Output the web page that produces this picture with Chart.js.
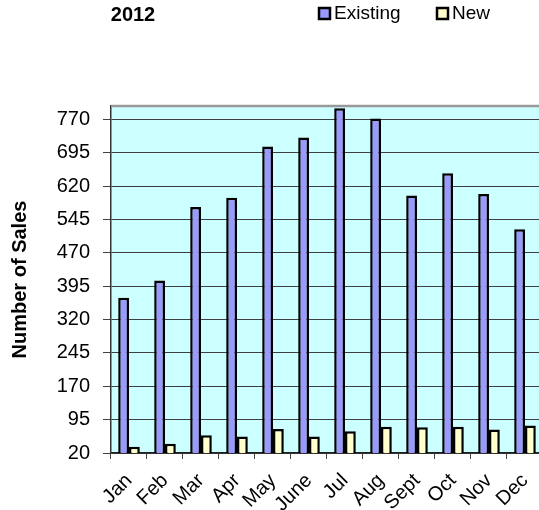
<!DOCTYPE html>
<html>
<head>
<meta charset="utf-8">
<script src="https://cdn.jsdelivr.net/npm/chart.js@4.4.0/dist/chart.umd.min.js"></script>
<style>
  html, body { margin: 0; padding: 0; background: #fff; overflow: hidden; }
  #wrap { width: 539px; height: 510px; overflow: hidden; }
</style>
</head>
<body>
<div id="wrap"><canvas id="salesChart" width="552" height="510"></canvas></div>
<script>
const months = ["Jan", "Feb", "Mar", "Apr", "May", "June", "Jul", "Aug", "Sept", "Oct", "Nov", "Dec"];
const existingSales = [369, 408, 573, 594, 709, 729, 795, 772, 599, 649, 602, 523];
const newSales = [34, 41, 60, 57, 74, 57, 69, 79, 78, 79, 73, 82];
const yTicks = [20, 95, 170, 245, 320, 395, 470, 545, 620, 695, 770];
const seriesNames = ["Existing", "New"];
const seriesColors = ["#9999FF", "#FFFFCC"];
const titleText = "2012";

Chart.defaults.font.family = "'Liberation Sans', Arial, sans-serif";
Chart.defaults.color = "#000";

// background of the plot area, top border, title and legend
const plotDecor = {
  id: "plotDecor",
  beforeDraw(chart) {
    const { ctx, chartArea: a } = chart;
    ctx.save();
    ctx.fillStyle = "#CCFFFF";
    ctx.fillRect(a.left, a.top, a.right - a.left, a.bottom - a.top);
    ctx.restore();
  },
  afterDraw(chart) {
    const { ctx, chartArea: a } = chart;
    ctx.save();
    ctx.strokeStyle = "#999999";
    ctx.lineWidth = 2.5;
    ctx.beginPath();
    ctx.moveTo(a.left, a.top);
    ctx.lineTo(a.right, a.top);
    ctx.stroke();

    ctx.fillStyle = "#000";
    ctx.font = "bold 20px 'Liberation Sans', Arial, sans-serif";
    ctx.textAlign = "center";
    ctx.textBaseline = "middle";
    ctx.fillText(titleText, 133, 15);

    ctx.font = "19px 'Liberation Sans', Arial, sans-serif";
    ctx.textAlign = "left";
    const xs = [319, 437];
    chart.data.datasets.forEach((ds, i) => {
      ctx.fillStyle = ds.backgroundColor;
      ctx.fillRect(xs[i], 8, 11, 11);
      ctx.strokeStyle = "#000";
      ctx.lineWidth = 2.5;
      ctx.strokeRect(xs[i], 8, 11, 11);
      ctx.fillStyle = "#000";
      ctx.fillText(ds.label, xs[i] + 15, 14);
    });
    ctx.restore();
  }
};

new Chart("salesChart", {
  type: "bar",
  data: {
    labels: months,
    datasets: [
      {
        label: seriesNames[0],
        data: existingSales,
        backgroundColor: seriesColors[0],
        borderColor: "#000",
        borderWidth: 2.5,
        categoryPercentage: 0.6,
        barPercentage: 1
      },
      {
        label: seriesNames[1],
        data: newSales,
        backgroundColor: seriesColors[1],
        borderColor: "#000",
        borderWidth: 2.5,
        categoryPercentage: 0.6,
        barPercentage: 1
      }
    ]
  },
  options: {
    responsive: false,
    animation: false,
    layout: { padding: { top: 106, right: 1, left: 0, bottom: 0 } },
    plugins: {
      legend: { display: false },
      title: { display: false },
      tooltip: { enabled: false }
    },
    scales: {
      x: {
        afterFit: (axis) => { axis.height = 57; },
        ticks: {
          font: { size: 20 },
          maxRotation: 45,
          minRotation: 45,
          autoSkip: false,
          padding: 10
        },
        grid: { drawOnChartArea: false, color: "#404040", tickLength: 6, offset: true },
        border: { color: "#222", width: 1.5 }
      },
      y: {
        min: 20,
        max: 800,
        afterBuildTicks: (axis) => { axis.ticks = yTicks.map((v) => ({ value: v })); },
        afterFit: (axis) => { axis.width = 111; },
        ticks: { font: { size: 20 }, padding: 13 },
        grid: { color: "#404040", tickLength: 8, lineWidth: 1 },
        border: { color: "#333", width: 1.5 },
        title: {
          display: true,
          text: "Number of Sales",
          font: { size: 20, weight: "bold" },
          padding: { top: 8, bottom: 0 }
        }
      }
    }
  },
  plugins: [plotDecor]
});
</script>
</body>
</html>
